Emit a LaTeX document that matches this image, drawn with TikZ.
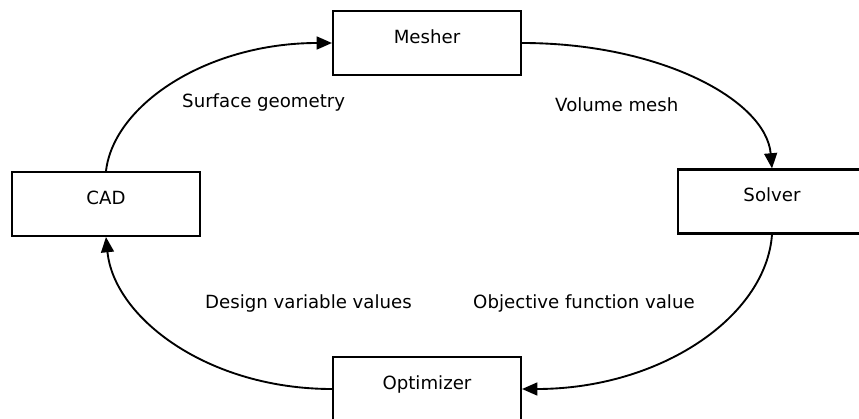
\documentclass[tikz,border=0pt]{standalone}
\usepackage{fontspec}
\setmainfont{DejaVu Sans}
\usetikzlibrary{arrows.meta}
\begin{document}
\begin{tikzpicture}[x=0.03cm,y=-0.03cm,
  blockbox/.style={draw,line width=1.8pt,minimum width=5.64cm,minimum height=1.92cm,inner sep=0pt},
  boxtext/.style={font=\fontsize{15.5}{18}\selectfont,anchor=base,inner sep=0pt},
  flow/.style={line width=1.6pt,-{Triangle[length=13pt,width=11pt]}},
  lbl/.style={font=\fontsize{15.5}{18}\selectfont,anchor=base west,inner sep=0pt}]
\useasboundingbox (0,0) rectangle (859,419);
\clip (0,0) rectangle (859,419);
\node[blockbox] (mesher) at (427,43) {};
\node[blockbox] (cad) at (106,204) {};
\node[blockbox] (solver) at (772,201.5) {};
\node[blockbox] (optimizer) at (427,389) {};
\node[boxtext] (tmesher) at (mesher.center) {Mesher};
\node[boxtext] (tcad) at (cad.center) {CAD};
\node[boxtext] (tsolver) at (solver.center) {Solver};
\node[boxtext] (toptimizer) at (optimizer.center) {Optimizer};
\draw[flow] (cad.north) .. controls (114,104) and (208,43) .. (mesher.west);
\draw[flow] (mesher.east) .. controls (660,43) and (766,100) .. (solver.north);
\draw[flow] (solver.south) .. controls (766,317) and (660,389) .. (optimizer.east);
\draw[flow] (optimizer.west) .. controls (208,389) and (114,318) .. (cad.south);
\node[lbl] (l1) at (182,107) {Surface geometry};
\node[lbl] (l2) at (555,111) {Volume mesh};
\node[lbl] (l3) at (205,308) {Design variable values};
\node[lbl] (l4) at (473,308) {Objective function value};
\end{tikzpicture}
\end{document}
